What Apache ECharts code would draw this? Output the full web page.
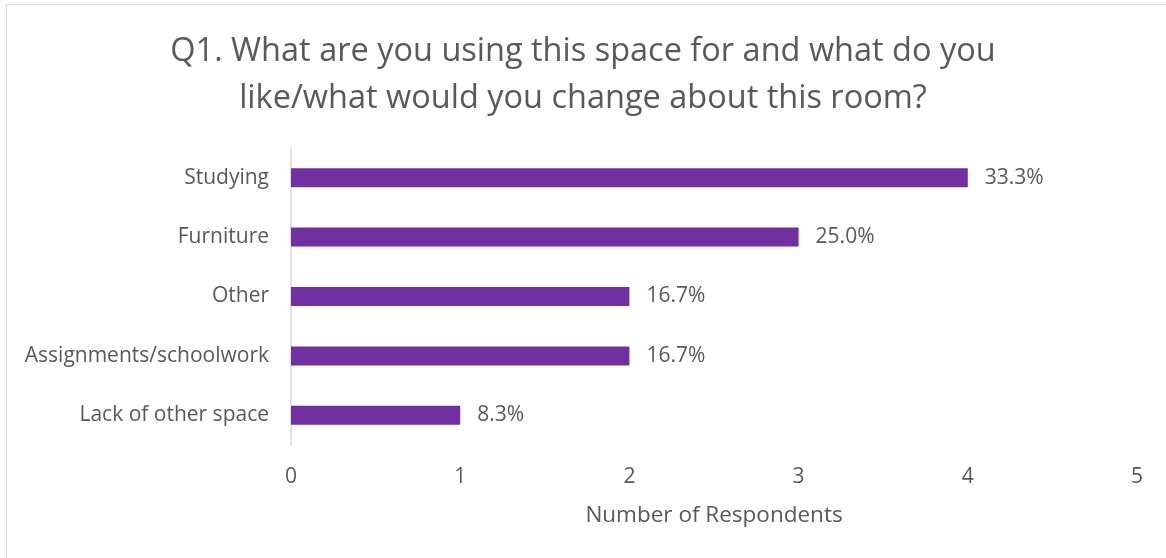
<!DOCTYPE html>
<html>
<head>
<meta charset="utf-8">
<script src="https://cdn.jsdelivr.net/npm/echarts@6/dist/echarts.min.js"></script>
<style>
  html, body { margin: 0; padding: 0; background: #fff; }
  #frame { position: absolute; left: 6px; top: 4px; width: 1170px; height: 570px; border: 1px solid #d9d9d9; box-sizing: border-box; }
  #chart { position: absolute; left: 0; top: 0; width: 1166px; height: 558px; }
</style>
</head>
<body>
<div id="frame"></div>
<div id="chart"></div>
<script>
const categories = ['Studying', 'Furniture', 'Other', 'Assignments/schoolwork', 'Lack of other space'];
const respondents = [4, 3, 2, 2, 1];
const axisTicks = [0, 1, 2, 3, 4, 5];

const total = respondents.reduce((a, b) => a + b, 0);
const textColor = '#595959';
const font = 'Open Sans';

const chart = echarts.init(document.getElementById('chart'), null, { renderer: 'canvas' });
chart.setOption({
  animation: false,
  title: {
    text: 'Q1. What are you using this space for and what do you\nlike/what would you change about this room?',
    left: 'center',
    top: 23,
    textStyle: { fontFamily: font, fontSize: 32.5, fontWeight: 'normal', color: textColor, lineHeight: 47 }
  },
  grid: { left: 291, right: 29, top: 148, bottom: 113, containLabel: false },
  xAxis: {
    type: 'value',
    min: axisTicks[0],
    max: axisTicks[axisTicks.length - 1],
    interval: 1,
    name: 'Number of Respondents',
    nameLocation: 'middle',
    nameGap: 59,
    nameTextStyle: { fontFamily: font, fontSize: 22.5, color: textColor },
    axisLine: { show: false },
    axisTick: { show: false },
    splitLine: { show: false },
    axisLabel: { fontFamily: font, fontSize: 21, color: textColor, margin: 22 }
  },
  yAxis: {
    type: 'category',
    data: categories,
    inverse: true,
    axisLine: { show: true, lineStyle: { color: '#d9d9d9', width: 1.5 } },
    axisTick: { show: false },
    axisLabel: { fontFamily: font, fontSize: 21, color: textColor, margin: 22 }
  },
  series: [{
    type: 'bar',
    data: respondents,
    barWidth: 19,
    itemStyle: { color: '#7030A0' },
    label: {
      show: true,
      position: 'right',
      distance: 17,
      fontFamily: font,
      fontSize: 21,
      color: textColor,
      formatter: p => (p.value / total * 100).toFixed(1) + '%'
    }
  }]
});
</script>
</body>
</html>
